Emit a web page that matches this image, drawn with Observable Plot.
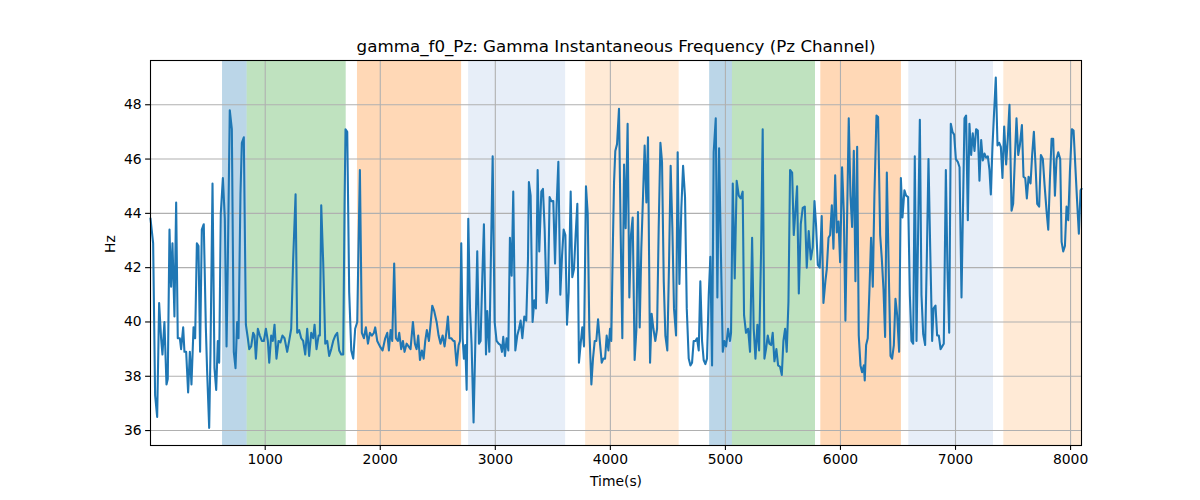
<!DOCTYPE html>
<html>
<head>
<meta charset="utf-8">
<script src="https://cdn.jsdelivr.net/npm/d3@7"></script>
<script src="https://cdn.jsdelivr.net/npm/@observablehq/plot@0.6"></script>
<style>
  html, body { margin: 0; padding: 0; background: #fff; }
</style>
</head>
<body>
<div id="chart"></div>
<script>
const titleText = "gamma_f0_Pz: Gamma Instantaneous Frequency (Pz Channel)";
const xLabel = "Time(s)";
const yLabel = "Hz";
const xTicks = [1000, 2000, 3000, 4000, 5000, 6000, 7000, 8000];
const yTicks = [36, 38, 40, 42, 44, 46, 48];

const spanStart = [629, 843, 1802, 2768, 3785, 4863, 5061, 5829, 6594, 7420];
const spanEnd   = [843, 1704, 2707, 3611, 4598, 5061, 5783, 6530, 7330, 8095];
const spanColor = ["#1f77b4", "#2ca02c", "#ff7f0e", "#aec7e8", "#ffbb78",
                   "#1f77b4", "#2ca02c", "#ff7f0e", "#aec7e8", "#ffbb78"];

const time = [
3,26,43,61,78,95,107,124,142,153,168,182,194,203,211,226,240,258,269,287,298,313,330,345,359,377,391,406,420,434,449,466,484,495,513,524,542,559,574,588,600,614,632,649,664,675,692,710,727,742,756,768,785,797,814,832,849,861,878,895,907,919,936,953,971,988,1006,1023,
1035,1052,1066,1081,1098,1116,1133,1150,1168,1191,1208,1226,1243,1264,1278,1295,1313,1330,1348,1365,1382,1400,1417,1429,1446,1464,1475,1487,1504,1522,1539,1556,1574,1591,1609,1626,1643,1661,1678,1690,1698,1713,1730,1748,1765,1782,1800,1811,1823,1840,1858,1875,1893,1910,1927,1945,1956,1974,1997,
2020,2043,2061,2075,2090,2104,2121,2136,2153,2165,2182,2197,2211,2229,2246,2263,2284,2301,2316,2330,2345,2362,2377,2391,2405,2423,2437,2452,2469,2490,2507,2524,2542,2559,2574,2588,2600,2617,2635,2646,2664,2681,2693,2704,2716,2727,2739,2751,2765,2780,2794,2811,2826,2843,2858,2872,2887,2901,2919,2930,2948,2962,2977,2994,3011,
3029,3046,3058,3069,3084,3098,3113,3127,3142,3156,3174,3191,3206,3220,3235,3252,3269,3284,3292,3307,3324,3339,3353,3368,3382,3400,3414,3429,3446,3458,3472,3487,3504,3519,3533,3548,3565,3580,3594,3609,3623,3638,3655,3669,3684,3698,3713,3727,3742,3756,3771,3788,3803,3817,3835,3849,3864,3878,3893,3910,3925,3939,3954,3968,3983,3997,4008,
4020,4032,4043,4058,4075,4090,4104,4119,4133,4150,4165,4179,4194,4211,4226,4240,4255,4269,4284,4298,4313,4327,4345,4359,4374,4391,4406,4420,4435,4449,4464,4478,4495,4510,4524,4539,4553,4571,4585,4600,4617,4632,4649,4664,4681,4696,4710,4724,4739,4753,4768,4782,4797,4811,4826,4840,4855,4869,4884,4898,4916,4930,4945,4959,4977,4991,5006,5023,
5040,5049,5064,5081,5098,5116,5133,5150,5162,5179,5197,5214,5232,5246,5261,5278,5293,5310,5324,5339,5353,5368,5382,5397,5411,5426,5443,5458,5475,5490,5504,5519,5533,5548,5562,5580,5594,5608,5623,5638,5655,5672,5690,5707,5724,5742,5759,5774,5788,5803,5820,5837,5852,5869,5881,5896,5910,5925,5939,5954,5968,5983,5997,6014,6029,6043,
6072,6087,6101,6116,6130,6145,6159,6174,6188,6203,6211,6223,6237,6252,6266,6281,6295,6313,6327,6345,6359,6374,6388,6403,6417,6435,6449,6464,6478,6493,6510,6525,6539,6556,6571,6588,6603,6617,6632,6646,6661,6678,6690,6704,6719,6736,6751,6765,6780,6797,6809,6826,6840,6855,6870,6884,6898,6916,6930,6945,6959,6974,6988,7003,7020,7035,7052,
7078,7092,7107,7121,7136,7150,7165,7179,7194,7208,7223,7237,7252,7266,7281,7295,7307,7321,7336,7350,7365,7379,7394,7408,7423,7440,7455,7469,7487,7501,7516,7530,7545,7559,7577,7591,7606,7620,7635,7652,7666,7681,7695,7710,7727,7742,7759,7774,7791,7806,7820,7835,7849,7864,7878,7893,7910,7922,7936,7951,7965,7980,7994,8011,8026,8043,8058,8072,8087,8095
];

const hz = [
43.8,42.9,37.3,36.5,40.7,39.4,38.8,40.0,37.7,37.9,43.4,41.3,42.9,41.5,40.2,44.4,39.4,39.4,39.0,39.8,38.9,38.9,37.4,38.9,37.7,39.8,39.4,42.9,42.8,38.9,43.4,43.6,39.8,38.2,36.1,38.8,45.1,38.3,37.5,39.3,38.5,44.0,45.3,43.8,39.1,42.2,47.8,47.1,38.9,38.3,40.0,39.4,44.7,46.6,46.8,39.9,39.4,39.0,39.1,39.6,39.5,38.65,39.75,39.5,39.3,39.3,39.75,39.3,
38.5,39.5,39.3,39.9,38.65,39.3,39.25,39.5,39.4,38.9,39.3,39.75,42.3,44.7,39.6,39.7,39.4,39.3,38.8,39.75,38.75,39.6,39.4,39.9,39.0,39.5,39.5,44.3,42.2,39.2,39.3,38.75,39.0,39.3,39.5,39.6,38.95,38.8,38.8,44.4,47.1,47.0,41.1,38.95,38.65,39.75,40.0,42.8,45.6,39.6,39.4,39.8,39.2,39.6,39.5,39.6,39.8,39.3,39.1,
38.95,39.4,39.6,38.95,39.7,39.3,42.15,39.4,39.3,39.6,39.0,39.3,38.9,39.2,39.1,39.0,40.0,39.2,39.0,39.5,38.6,38.95,38.65,39.3,39.7,39.3,39.9,40.6,40.4,40.0,39.5,39.2,39.5,39.1,39.6,40.2,39.4,39.4,39.3,39.3,38.4,39.15,39.3,42.9,39.4,38.65,39.15,37.5,43.8,40.5,39.15,36.3,39.15,42.6,39.2,39.3,41.65,43.6,38.8,40.4,38.9,42.45,46.1,40.0,39.3,
39.2,39.15,38.9,39.45,38.75,39.4,38.95,43.1,41.7,44.8,38.95,39.5,39.75,40.05,39.4,40.2,40.05,42.3,45.15,44.65,40.0,40.8,40.5,45.6,42.6,44.8,44.9,43.4,40.7,41.2,44.6,44.45,44.45,42.15,44.3,45.9,41.0,42.45,43.4,43.2,39.9,41.1,44.8,41.65,41.95,43.2,44.35,38.5,39.2,39.8,39.1,45.0,44.0,39.75,37.7,38.65,39.3,39.3,40.1,39.2,38.5,38.65,38.65,39.5,38.95,39.75,39.3,
42.45,45.15,46.3,46.55,47.85,43.2,39.4,45.8,43.45,47.3,40.9,43.2,43.85,38.6,39.7,44.05,39.8,42.7,44.65,46.5,44.4,46.8,38.5,40.3,39.75,39.3,39.75,43.45,46.6,45.9,41.5,39.5,38.95,42.15,45.75,43.45,40.5,39.5,46.25,41.4,44.2,45.75,44.6,40.5,38.65,38.4,38.5,39.3,39.3,39.4,38.95,41.5,39.3,38.6,38.45,38.65,41.0,42.4,38.4,46.25,47.5,40.9,46.4,42.95,38.9,39.3,39.1,39.75,
39.3,39.6,45.1,41.6,45.2,44.65,44.55,44.8,40.25,39.6,39.75,38.9,43.1,39.75,38.65,39.9,38.95,42.6,47.1,38.65,39.0,39.5,39.2,39.15,39.6,38.55,39.0,38.4,38.35,38.05,39.3,39.75,38.9,40.75,45.6,45.5,43.2,44.05,45.0,41.05,43.6,44.2,44.25,42.0,43.35,42.3,42.75,44.45,43.55,42.1,42.0,43.9,40.7,41.5,41.95,43.1,43.2,44.3,42.7,45.4,43.3,43.7,42.2,45.7,44.05,40.05,
47.5,44.65,43.5,46.3,41.5,46.45,39.5,38.4,38.15,38.4,37.85,39.15,39.4,41.2,43.1,41.3,44.65,47.6,47.55,43.2,42.35,41.2,39.45,45.5,42.45,38.75,38.65,39.15,40.85,40.25,38.9,45.3,43.85,44.85,44.65,44.6,41.0,39.3,39.2,46.1,39.3,44.2,47.45,41.0,39.55,39.15,42.45,46.0,42.7,39.3,40.5,40.6,39.5,39.5,39.0,39.1,39.2,45.6,41.95,39.6,47.3,47.0,46.9,46.0,45.9,45.7,40.9,
47.5,47.6,43.75,47.3,46.15,46.95,46.3,47.1,47.05,45.2,46.7,45.95,46.2,46.05,46.1,45.6,44.7,46.45,47.8,49.0,46.5,46.6,46.45,45.3,47.2,45.8,46.8,48.0,44.1,44.35,46.05,47.5,46.15,46.5,47.25,45.35,45.3,44.55,45.35,45.1,46.15,47.0,45.8,44.35,44.25,46.15,46.0,45.05,44.1,43.4,45.2,46.75,46.75,44.65,46.0,46.25,46.0,42.95,42.6,42.8,44.25,43.75,45.5,47.1,47.05,45.6,44.35,43.25,44.85,44.9
];

const series = time.map((t, i) => ({t, v: hz[i]}));
const spans = spanStart.map((s, i) => ({s, e: spanEnd[i], c: spanColor[i]}));

const chart = Plot.plot({
  width: 1200,
  height: 500,
  marginLeft: 150,
  marginRight: 119,
  marginTop: 60,
  marginBottom: 55,
  style: {fontFamily: "'DejaVu Sans', sans-serif", fontSize: "13.9px", color: "black", background: "white"},
  x: {domain: [3, 8095]},
  y: {domain: [35.45, 49.63]},
  color: {type: "identity"},
  marks: [
    Plot.rect(spans, {x1: "s", x2: "e", fill: "c", fillOpacity: 0.3}),
    Plot.gridX(xTicks, {stroke: "#b0b0b0", strokeOpacity: 1, strokeWidth: 1.1}),
    Plot.gridY(yTicks, {stroke: "#b0b0b0", strokeOpacity: 1, strokeWidth: 1.1}),
    Plot.line(series, {x: "t", y: "v", stroke: "#1f77b4", strokeWidth: 2.08, strokeLinejoin: "round", strokeLinecap: "square"}),
    Plot.frame({stroke: "black", strokeWidth: 1.1}),
    Plot.axisX(xTicks, {tickSize: 4.9, tickPadding: 4, tickFormat: d => String(d), label: null, fontSize: 13.9, strokeWidth: 1.1}),
    Plot.axisY(yTicks, {tickSize: 4.9, tickPadding: 4, tickFormat: d => String(d), label: null, fontSize: 13.9, strokeWidth: 1.1}),
    Plot.text([titleText], {frameAnchor: "top", lineAnchor: "middle", dy: -14, fontSize: 16.7, fill: "black"}),
    Plot.text([xLabel], {frameAnchor: "bottom", lineAnchor: "middle", dy: 36, fontSize: 13.9, fill: "black"}),
    Plot.text([yLabel], {frameAnchor: "left", lineAnchor: "middle", dx: -40, rotate: -90, fontSize: 13.9, fill: "black"})
  ]
});
document.getElementById("chart").appendChild(chart);
</script>
</body>
</html>
